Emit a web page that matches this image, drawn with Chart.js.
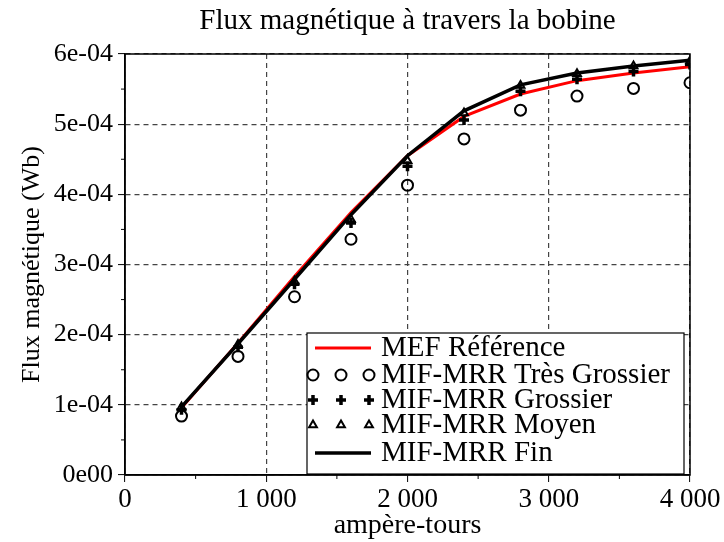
<!DOCTYPE html>
<html>
<head>
<meta charset="utf-8">
<script src="https://cdn.jsdelivr.net/npm/chart.js@4/dist/chart.umd.min.js"></script>
<style>
  body { margin: 0; background: #fff; }
  canvas { display: block; }
</style>
</head>
<body>
<canvas id="fluxChart" width="724" height="542"></canvas>
<script>
// ampère-tours
const ampereTours = [400, 800, 1200, 1600, 2000, 2400, 2800, 3200, 3600, 4000];
// flux (Wb)
const mefReference = [0.96e-4, 1.88e-4, 2.83e-4, 3.74e-4, 4.55e-4, 5.11e-4, 5.43e-4, 5.62e-4, 5.73e-4, 5.82e-4];
const mrrTresGrossier = [0.84e-4, 1.69e-4, 2.54e-4, 3.36e-4, 4.13e-4, 4.79e-4, 5.20e-4, 5.40e-4, 5.51e-4, 5.59e-4];
const mrrGrossier = [0.93e-4, 1.82e-4, 2.72e-4, 3.59e-4, 4.40e-4, 5.06e-4, 5.47e-4, 5.64e-4, 5.75e-4, 5.85e-4];
const mrrMoyen = [0.97e-4, 1.86e-4, 2.76e-4, 3.64e-4, 4.48e-4, 5.16e-4, 5.55e-4, 5.72e-4, 5.83e-4, 5.90e-4];
const mrrFin = [0.97e-4, 1.87e-4, 2.79e-4, 3.71e-4, 4.55e-4, 5.19e-4, 5.56e-4, 5.73e-4, 5.83e-4, 5.91e-4];

const chartTitle = "Flux magnétique à travers la bobine";
const FONT = "'Liberation Serif', 'Times New Roman', serif";

function toPoints(values) {
  return values.map((v, i) => ({ x: ampereTours[i], y: v }));
}

// title centred over the plot, frame on top/right, minor ticks
const framePlugin = {
  id: "frame",
  afterDraw(chart) {
    const { ctx, chartArea: a, scales } = chart;
    ctx.save();
    ctx.fillStyle = "#000";
    ctx.font = "29px " + FONT;
    ctx.textAlign = "center";
    ctx.textBaseline = "middle";
    ctx.fillText(chartTitle, (a.left + a.right) / 2, 21);

    ctx.strokeStyle = "#000";
    ctx.lineWidth = 1.5;
    ctx.strokeRect(a.left, a.top, a.right - a.left, a.bottom - a.top);
    ctx.lineWidth = 1;
    ctx.beginPath();
    for (let v = 500; v < 4000; v += 1000) {
      const x = scales.x.getPixelForValue(v);
      ctx.moveTo(x, a.bottom);
      ctx.lineTo(x, a.bottom + 4);
    }
    for (let v = 0.5e-4; v < 6e-4; v += 1e-4) {
      const y = scales.y.getPixelForValue(v);
      ctx.moveTo(a.left, y);
      ctx.lineTo(a.left - 4, y);
    }
    ctx.stroke();
    ctx.restore();
  },
};

// legend drawn inside plot area, lower right
const legendPlugin = {
  id: "boxLegend",
  afterDraw(chart) {
    const { ctx } = chart;
    const box = { x: 307, y: 333, w: 377, h: 141 };
    ctx.save();
    ctx.fillStyle = "#fff";
    ctx.fillRect(box.x, box.y, box.w, box.h);
    ctx.strokeStyle = "#000";
    ctx.lineWidth = 1.2;
    ctx.strokeRect(box.x, box.y, box.w, box.h);
    const rows = [348, 375, 400, 425, 453];
    ctx.textBaseline = "middle";
    chart.data.datasets.forEach((ds, i) => {
      const y = rows[i];
      if (ds.showLine) {
        ctx.strokeStyle = ds.borderColor;
        ctx.lineWidth = ds.borderWidth;
        ctx.beginPath();
        ctx.moveTo(315, y);
        ctx.lineTo(371, y);
        ctx.stroke();
      } else {
        [313, 341, 369].forEach((px) => {
          ctx.fillStyle = ds.pointBackgroundColor;
          ctx.strokeStyle = ds.pointBorderColor;
          ctx.lineWidth = ds.pointBorderWidth;
          Chart.helpers.drawPoint(ctx, {
            pointStyle: ds.pointStyle,
            radius: ds.pointRadius,
            borderWidth: ds.pointBorderWidth,
            rotation: 0,
          }, px, y);
        });
      }
      ctx.fillStyle = "#000";
      ctx.font = "29px " + FONT;
      ctx.fillText(ds.label, 381, y);
    });
    ctx.restore();
  },
};

function markerSet(label, values, style, radius, width, order) {
  return {
    label: label,
    data: toPoints(values),
    showLine: false,
    pointStyle: style,
    pointRadius: radius,
    pointHoverRadius: radius,
    pointBorderWidth: width,
    pointBorderColor: "#000",
    pointBackgroundColor: "rgba(0,0,0,0)",
    borderColor: "#000",
    backgroundColor: "rgba(0,0,0,0)",
    order: order,
  };
}

function lineSet(label, values, color, width, order) {
  return {
    label: label,
    data: toPoints(values),
    showLine: true,
    borderColor: color,
    borderWidth: width,
    pointRadius: 0,
    tension: 0,
    order: order,
  };
}

const ctx = document.getElementById("fluxChart");
new Chart(ctx, {
  type: "scatter",
  data: {
    datasets: [
      lineSet("MEF Référence", mefReference, "#ff0000", 3, 5),
      markerSet("MIF-MRR Très Grossier", mrrTresGrossier, "circle", 5.5, 2, 3),
      markerSet("MIF-MRR Grossier", mrrGrossier, "cross", 5, 3.5, 2),
      markerSet("MIF-MRR Moyen", mrrMoyen, "triangle", 4.5, 2, 1),
      lineSet("MIF-MRR Fin", mrrFin, "#000000", 3.5, 4),
    ],
  },
  options: {
    responsive: false,
    animation: false,
    layout: { padding: { left: 0, right: 34, top: 54, bottom: 0 } },
    plugins: {
      legend: { display: false },
      tooltip: { enabled: false },
      title: { display: false },
    },
    scales: {
      x: {
        type: "linear",
        min: 0,
        max: 4000,
        afterFit(scale) {
          scale.height = 67;
        },
        ticks: {
          stepSize: 1000,
          color: "#000",
          padding: 2,
          maxRotation: 0,
          font: { family: FONT, size: 27 },
          callback: (v) => String(v).replace(/\B(?=(\d{3})+(?!\d))/g, " "),
        },
        grid: {
          color: "#444",
          lineWidth: 1.2,
          tickColor: "#000",
          tickLength: 7,
          tickWidth: 1,
        },
        border: { color: "#000", width: 1.5, dash: [5, 4] },
        title: {
          display: true,
          text: "ampère-tours",
          color: "#000",
          font: { family: FONT, size: 28 },
          padding: { top: 0, bottom: 0 },
        },
      },
      y: {
        type: "linear",
        min: 0,
        max: 6e-4,
        afterFit(scale) {
          scale.width = 125;
        },
        ticks: {
          stepSize: 1e-4,
          color: "#000",
          padding: 5,
          font: { family: FONT, size: 26 },
          callback: (v) => {
            const n = Math.round(v * 1e4);
            return n === 0 ? "0e00" : n + "e-04";
          },
        },
        grid: {
          color: "#444",
          lineWidth: 1.2,
          tickColor: "#000",
          tickLength: 7,
          tickWidth: 1,
        },
        border: { color: "#000", width: 1.5, dash: [5, 4] },
        title: {
          display: true,
          text: "Flux magnétique (Wb)",
          color: "#000",
          font: { family: FONT, size: 26 },
          padding: { top: 17, bottom: 0 },
        },
      },
    },
  },
  plugins: [framePlugin, legendPlugin],
});
</script>
</body>
</html>
